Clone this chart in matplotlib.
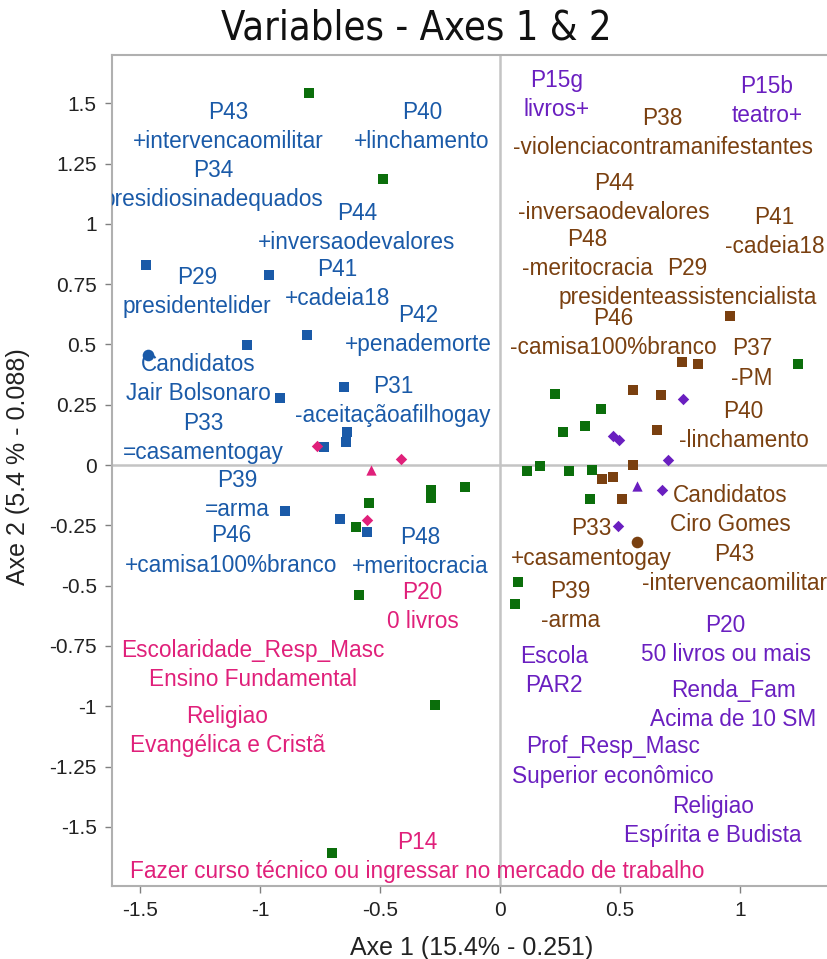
#!/usr/bin/env python3
"""
Variables - Axes 1 & 2: factor map of modalities (MCA style)
"""
import matplotlib
matplotlib.use("Agg")
import matplotlib.pyplot as plt
import matplotlib.ticker as mticker

plt.rcParams['font.family'] = ['Liberation Sans', 'DejaVu Sans']
plt.rcParams['axes.unicode_minus'] = False

BLUE = '#1a5aa8'
PINK = '#e0207a'
GREEN = '#0b6e0b'
BROWN = '#7a4010'
PURPLE = '#6a1fc0'

# --- blue modalities (Jair Bolsonaro side)
blue_sq_x = [-1.475, -0.962, -0.804, -1.054, -0.917, -0.650, -0.639, -0.643, -0.733, -0.896, -0.667, -0.556]
blue_sq_y = [0.829, 0.790, 0.540, 0.496, 0.276, 0.322, 0.138, 0.096, 0.075, -0.192, -0.224, -0.279]
blue_ci_x = [-1.467]
blue_ci_y = [0.458]
blue_labels = [("P43", "+intervencaomilitar"), ("P40", "+linchamento"),
               ("P34", "presidiosinadequados"), ("P44", "+inversaodevalores"),
               ("P29", "presidentelider"), ("P41", "+cadeia18"),
               ("P42", "+penademorte"), ("Candidatos", "Jair Bolsonaro"),
               ("P31", "-aceitaçãoafilhogay"), ("P33", "=casamentogay"),
               ("P39", "=arma"), ("P46", "+camisa100%branco"),
               ("P48", "+meritocracia")]
blue_lab_x = [-1.131, -0.325, -1.195, -0.596, -1.262, -0.679, -0.342, -1.258, -0.446, -1.237, -1.096, -1.121, -0.333]
blue_lab_y = [1.402, 1.402, 1.160, 0.981, 0.717, 0.750, 0.560, 0.356, 0.265, 0.112, -0.123, -0.354, -0.362]

# --- pink modalities
pink_di_x = [-0.764, -0.413, -0.556]
pink_di_y = [0.079, 0.025, -0.229]
pink_tr_x = [-0.537]
pink_tr_y = [-0.021]
pink_labels = [("P20", "0 livros"), ("Escolaridade_Resp_Masc", "Ensino Fundamental"),
               ("Religiao", "Evangélica e Cristã"),
               ("P14", "Fazer curso técnico ou ingressar no mercado de trabalho")]
pink_lab_x = [-0.323, -1.031, -1.137, -0.346]
pink_lab_y = [-0.590, -0.827, -1.104, -1.623]

# --- green modalities (no labels)
green_sq_x = [-0.796, -0.487, -0.546, -0.600, -0.287, -0.287, -0.146, -0.587, -0.271, -0.700,
              1.242, 0.229, 0.421, 0.354, 0.262, 0.112, 0.167, 0.287, 0.383, 0.375, 0.075, 0.062]
green_sq_y = [1.542, 1.187, -0.158, -0.258, -0.104, -0.137, -0.092, -0.537, -0.996, -1.608,
              0.421, 0.296, 0.233, 0.162, 0.137, -0.025, -0.004, -0.025, -0.021, -0.142, -0.483, -0.575]

# --- brown modalities (Ciro Gomes side)
brown_sq_x = [0.958, 0.758, 0.825, 0.554, 0.671, 0.654, 0.554, 0.425, 0.471, 0.508]
brown_sq_y = [0.617, 0.429, 0.417, 0.312, 0.290, 0.146, 0.000, -0.058, -0.050, -0.142]
brown_ci_x = [0.571]
brown_ci_y = [-0.317]
brown_labels = [("P38", "-violenciacontramanifestantes"), ("P44", "-inversaodevalores"),
                ("P41", "-cadeia18"), ("P48", "-meritocracia"),
                ("P29", "presidenteassistencialista"), ("P46", "-camisa100%branco"),
                ("P37", "-PM"), ("P40", "-linchamento"), ("Candidatos", "Ciro Gomes"),
                ("P33", "+casamentogay"), ("P43", "-intervencaomilitar"), ("P39", "-arma")]
brown_lab_x = [0.677, 0.475, 1.144, 0.365, 0.781, 0.471, 1.050, 1.015, 0.958, 0.379, 0.975, 0.292]
brown_lab_y = [1.377, 1.106, 0.965, 0.875, 0.756, 0.546, 0.421, 0.162, -0.187, -0.325, -0.431, -0.585]

# --- purple modalities
purple_di_x = [0.762, 0.471, 0.496, 0.700, 0.675, 0.492]
purple_di_y = [0.275, 0.121, 0.104, 0.021, -0.104, -0.254]
purple_tr_x = [0.571]
purple_tr_y = [-0.087]
purple_labels = [("P15g", "livros+"), ("P15b", "teatro+"), ("P20", "50 livros ou mais"),
                 ("Escola", "PAR2"), ("Renda_Fam", "Acima de 10 SM"),
                 ("Prof_Resp_Masc", "Superior econômico"), ("Religiao", "Espírita e Budista")]
purple_lab_x = [0.237, 1.112, 0.940, 0.225, 0.971, 0.471, 0.887]
purple_lab_y = [1.533, 1.510, -0.725, -0.852, -0.996, -1.229, -1.477]


def __labels(ax, labels, xs, ys, color):
    for (l1, l2), x, y in zip(labels, xs, ys):
        ax.text(x, y, l1 + "\n" + l2, color=color, fontsize=16.3, ha='center', va='center',
                linespacing=1.34, clip_on=True, zorder=3)


def main():
    fig = plt.figure(figsize=(8.27, 9.59), dpi=100)
    ax = fig.add_axes([112 / 827, 73 / 959, 715 / 827, 831 / 959])
    ax.set_xlim(-1.617, 1.362)
    ax.set_ylim(-1.745, 1.70)

    ax.axhline(0, color='#c4c4c4', lw=1.8, zorder=0)
    ax.axvline(0, color='#c4c4c4', lw=1.8, zorder=0)

    sq = dict(marker='s', s=62, linewidths=0, zorder=2)
    di = dict(marker='D', s=34, linewidths=0, zorder=2)
    tr = dict(marker='^', s=55, linewidths=0, zorder=2)
    ci = dict(marker='o', s=70, linewidths=0, zorder=2)

    ax.scatter(green_sq_x, green_sq_y, color=GREEN, **sq)
    ax.scatter(blue_sq_x, blue_sq_y, color=BLUE, **sq)
    ax.scatter(blue_ci_x, blue_ci_y, color=BLUE, **ci)
    ax.scatter(pink_di_x, pink_di_y, color=PINK, **di)
    ax.scatter(pink_tr_x, pink_tr_y, color=PINK, **tr)
    ax.scatter(brown_sq_x, brown_sq_y, color=BROWN, **sq)
    ax.scatter(brown_ci_x, brown_ci_y, color=BROWN, **ci)
    ax.scatter(purple_di_x, purple_di_y, color=PURPLE, **di)
    ax.scatter(purple_tr_x, purple_tr_y, color=PURPLE, **tr)

    __labels(ax, blue_labels, blue_lab_x, blue_lab_y, BLUE)
    __labels(ax, pink_labels, pink_lab_x, pink_lab_y, PINK)
    __labels(ax, brown_labels, brown_lab_x, brown_lab_y, BROWN)
    __labels(ax, purple_labels, purple_lab_x, purple_lab_y, PURPLE)

    ax.xaxis.set_major_locator(mticker.MultipleLocator(0.5))
    ax.yaxis.set_major_locator(mticker.MultipleLocator(0.25))
    fmt = mticker.FuncFormatter(lambda v, p: "%g" % round(v, 3) if abs(v) > 1e-9 else "0")
    ax.xaxis.set_major_formatter(fmt)
    ax.yaxis.set_major_formatter(fmt)
    ax.tick_params(colors='#808080', labelcolor='#222222', labelsize=15, length=5, width=1, pad=6)

    for side in ('left', 'bottom', 'top'):
        ax.spines[side].set_color('#b0b0b0')
        ax.spines[side].set_linewidth(1.5)
    ax.spines['right'].set_visible(False)

    ax.set_xlabel("Axe 1 (15.4% - 0.251)", fontsize=18, color='#222222', va='center')
    ax.set_ylabel("Axe 2 (5.4 % - 0.088)", fontsize=18, color='#222222', va='center')
    ax.xaxis.set_label_coords(0.5025, -0.0746)
    ax.yaxis.set_label_coords(-0.131, 0.505)

    fig.text(0.503, 0.970, "Variables - Axes 1 & 2", ha='center', va='center', fontsize=28.5,
             family=['DejaVu Sans'], fontstretch='condensed', color='#111111')

    fig.savefig("out.png", dpi=100)


if __name__ == '__main__':
    main()
